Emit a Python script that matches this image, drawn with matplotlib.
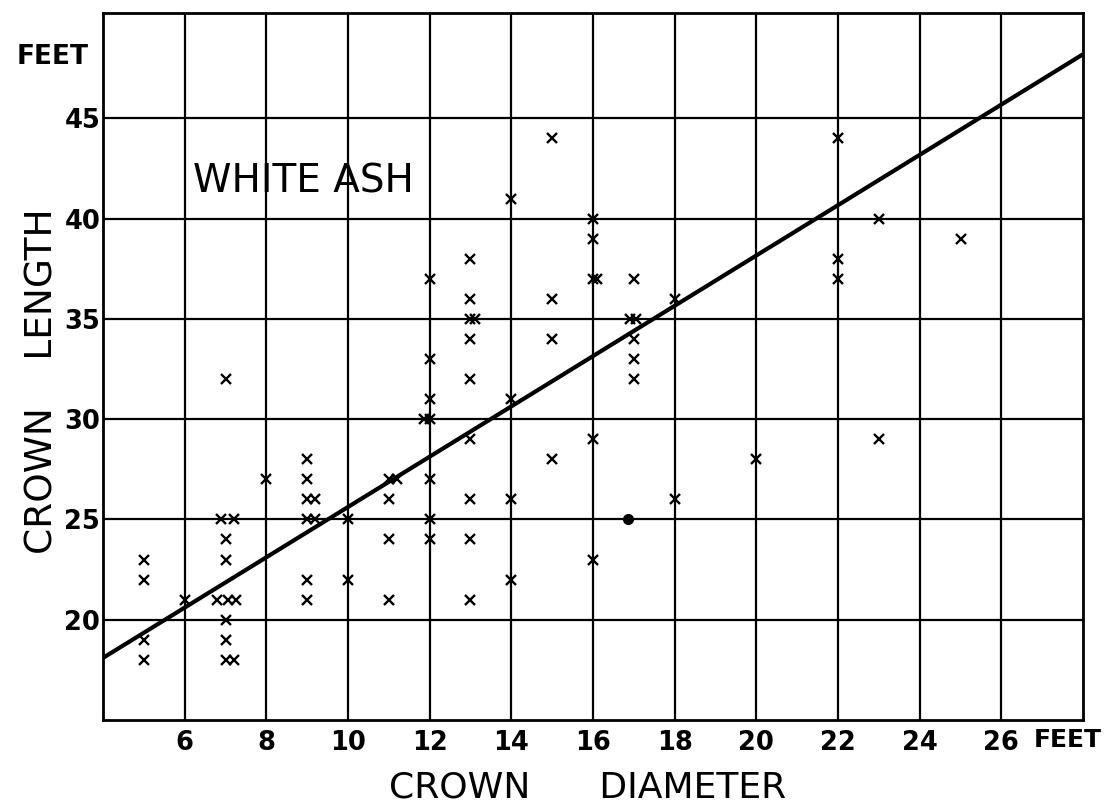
import matplotlib
matplotlib.use("Agg")
import matplotlib.pyplot as plt
import numpy as np

# Crown diameter (ft) and crown length (ft) of measured white ash trees
diameter = [5, 5, 5, 5,
            6,
            7, 6.9, 7.2, 7, 7, 6.8, 7.05, 7.25, 7, 7, 7, 7.2,
            8,
            9, 9, 9, 9.2, 9, 9.2, 9, 9,
            10, 10,
            11, 11.2, 11, 11, 11,
            12, 12, 12, 11.85, 12, 12, 12, 12,
            13, 13, 13, 13.1, 13, 13, 13, 13, 13, 13,
            14, 14, 14, 14,
            15, 15, 15, 15,
            16, 16, 16, 16.1, 16, 16,
            17, 16.9, 17.05, 17, 17, 17,
            18, 18,
            20,
            22, 22, 22,
            23, 23,
            25]
length = [23, 22, 19, 18,
          21,
          32, 25, 25, 24, 23, 21, 21, 21, 20, 19, 18, 18,
          27,
          28, 27, 26, 26, 25, 25, 22, 21,
          25, 22,
          27, 27, 26, 24, 21,
          37, 33, 31, 30, 30, 27, 25, 24,
          38, 36, 35, 35, 34, 32, 29, 26, 24, 21,
          41, 31, 26, 22,
          44, 36, 34, 28,
          40, 39, 37, 37, 29, 23,
          37, 35, 35, 34, 33, 32,
          36, 26,
          28,
          44, 38, 37,
          40, 29,
          39]

# single tree plotted with a solid dot
dot_diameter = [16.85]
dot_length = [25]

# fitted straight line: length = intercept + slope * diameter
intercept = 13.08
slope = 1.254

x_ticks = [6, 8, 10, 12, 14, 16, 18, 20, 22, 24, 26]
y_ticks = [20, 25, 30, 35, 40, 45]

W, H = 1117, 807
fig = plt.figure(figsize=(W / 100, H / 100), dpi=100)
ax = fig.add_axes([103 / W, 1 - 720 / H, (1083 - 103) / W, (720 - 13) / H])

ax.set_xlim(4, 28)
ax.set_ylim(15, 50.25)

# grid
for xv in x_ticks:
    ax.axvline(xv, color="black", lw=1.6, zorder=1)
for yv in y_ticks:
    ax.axhline(yv, color="black", lw=1.6, zorder=1)

for sp in ax.spines.values():
    sp.set_linewidth(2.0)
    sp.set_color("black")

# observations
ax.plot(diameter, length, linestyle="none", marker="x", color="black",
        markersize=7, markeredgewidth=1.7, zorder=3)
ax.plot(dot_diameter, dot_length, linestyle="none", marker="o", color="black",
        markersize=7, zorder=3)

# regression line
xl = np.array(ax.get_xlim())
ax.plot(xl, intercept + slope * xl, color="black", lw=3.0,
        solid_capstyle="butt", zorder=4)

ax.set_xticks(x_ticks)
ax.set_xticklabels([str(v) for v in x_ticks])
ax.set_yticks(y_ticks)
ax.set_yticklabels([str(v) for v in y_ticks])
ax.tick_params(axis="both", length=0, labelsize=18.5)
ax.tick_params(axis="x", pad=7)
ax.tick_params(axis="y", pad=2)
for lab in ax.get_xticklabels() + ax.get_yticklabels():
    lab.set_fontweight("heavy")
    lab.set_family("DejaVu Sans")

# unit labels
fig.text(53 / W, 1 - 57 / H, "FEET", fontsize=19, fontweight="heavy",
         ha="center", va="center")
fig.text(1034 / W, 1 - 740 / H, "FEET", fontsize=18, fontweight="heavy",
         ha="left", va="center")

# axis titles
fig.text(588 / W, 1 - 787 / H, "CROWN      DIAMETER", fontsize=26,
         ha="center", va="center")
fig.text(43 / W, 1 - 381 / H, "CROWN    LENGTH", fontsize=27,
         ha="center", va="center", rotation=90)

ax.text(6.2, 41.85, "WHITE ASH", fontsize=28, ha="left", va="center")

fig.savefig("out.png", dpi=100, facecolor="white")
